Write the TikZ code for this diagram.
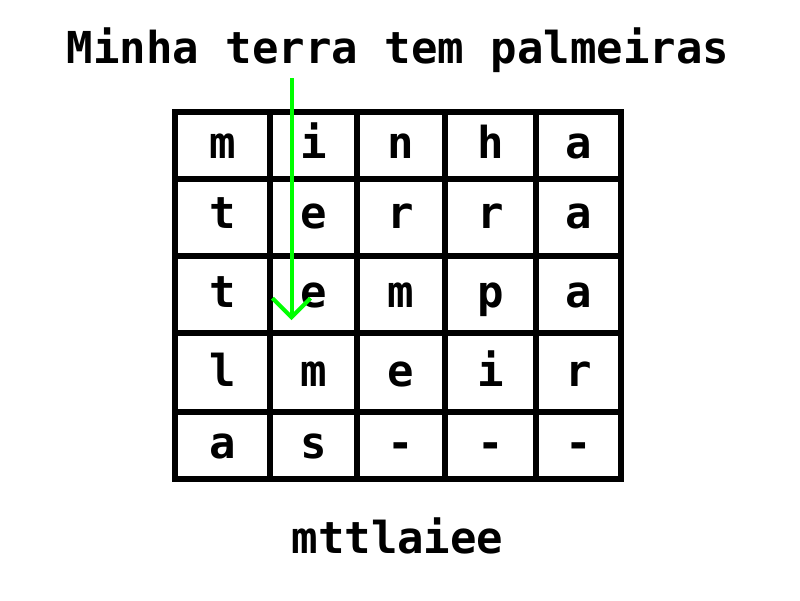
\documentclass[tikz,border=0pt]{standalone}
\usepackage{fontspec}
\usepackage{tikz}
\usetikzlibrary{arrows.meta}
\newfontfamily\gridfont{DejaVu Sans Mono}
\definecolor{arrowgreen}{RGB}{0,255,0}

\begin{document}
\begin{tikzpicture}[x=1pt,y=-1pt]
\tikzstyle{every node}+=[inner sep=0pt]
\tikzstyle{letter}=[font=\gridfont\bfseries\fontsize{44}{44}\selectfont, text height=25pt, text depth=0pt]
\tikzstyle{caption}=[font=\gridfont\bfseries\fontsize{44}{44}\selectfont, anchor=base]
\tikzstyle{gridline}=[black, line width=6pt]
\tikzstyle{readarrow}=[arrowgreen, line width=4pt, -{Straight Barb[length=19pt,width=38pt,line width=4pt]}]
\useasboundingbox (0,0) rectangle (800,600);
\fill [white] (0,0) rectangle (800,600);
% text above and below
\node [caption] (title) at (398,63) {Minha terra tem palmeiras};
\node [caption] (result) at (397.5,553) {mttlaiee};
% the grid
\draw [gridline] (175,111.5) rectangle (621,478.5);
\draw [gridline] (269.5,111.5) -- (269.5,478.5);
\draw [gridline] (357,111.5) -- (357,478.5);
\draw [gridline] (444.5,111.5) -- (444.5,478.5);
\draw [gridline] (536,111.5) -- (536,478.5);
\draw [gridline] (175,179) -- (621,179);
\draw [gridline] (175,256) -- (621,256);
\draw [gridline] (175,333) -- (621,333);
\draw [gridline] (175,412) -- (621,412);
% row 1
\node [letter] (m11) at (222.25,145.5) {m};
\node [letter] (m12) at (313.25,145.5) {i};
\node [letter] (m13) at (400.75,145.5) {n};
\node [letter] (m14) at (490.25,145.5) {h};
\node [letter] (m15) at (578.5,145.5) {a};
% row 2
\node [letter] (m21) at (222.25,215.5) {t};
\node [letter] (m22) at (313.25,215.5) {e};
\node [letter] (m23) at (400.75,215.5) {r};
\node [letter] (m24) at (490.25,215.5) {r};
\node [letter] (m25) at (578.5,215.5) {a};
% row 3
\node [letter] (m31) at (222.25,294.5) {t};
\node [letter] (m32) at (313.25,294.5) {e};
\node [letter] (m33) at (400.75,294.5) {m};
\node [letter] (m34) at (490.25,294.5) {p};
\node [letter] (m35) at (578.5,294.5) {a};
% row 4
\node [letter] (m41) at (222.25,374) {l};
\node [letter] (m42) at (313.25,374) {m};
\node [letter] (m43) at (400.75,374) {e};
\node [letter] (m44) at (490.25,374) {i};
\node [letter] (m45) at (578.5,374) {r};
% row 5
\node [letter] (m51) at (222.25,445.5) {a};
\node [letter] (m52) at (313.25,445.5) {s};
\node [letter] (m53) at (400.75,445.5) {-};
\node [letter] (m54) at (490.25,445.5) {-};
\node [letter] (m55) at (578.5,445.5) {-};
% reading direction
\coordinate (arrowstart) at (291.5,78);
\coordinate (arrowtip) at (291.5,320);
\draw [readarrow] (arrowstart) -- (arrowtip);
\end{tikzpicture}
\end{document}
